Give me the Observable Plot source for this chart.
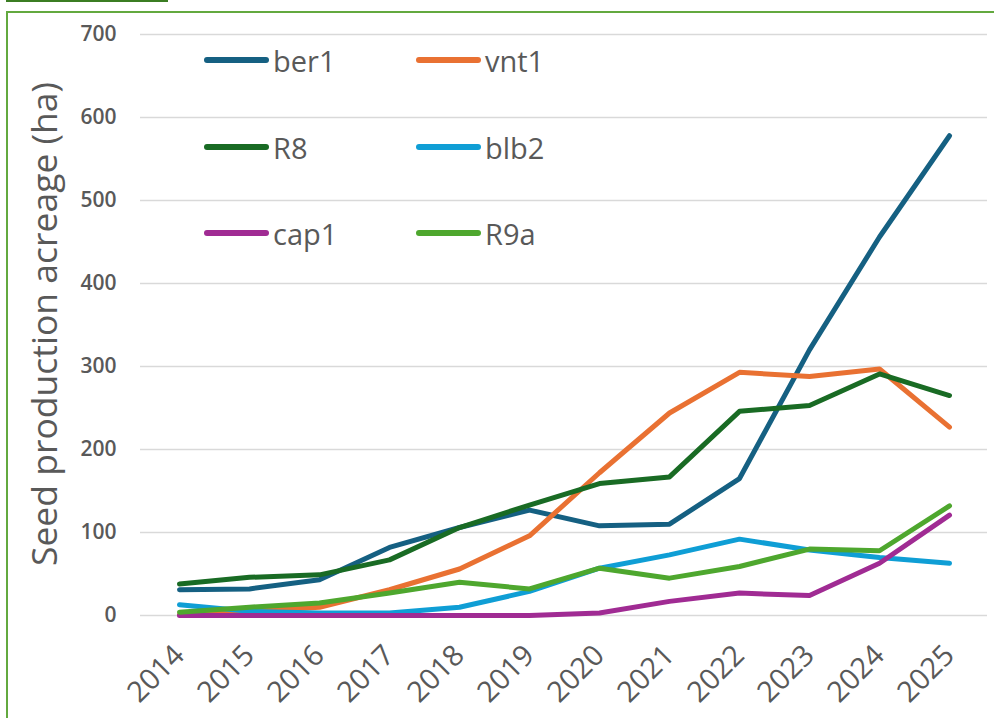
<!DOCTYPE html>
<html>
<head>
<meta charset="utf-8">
<script src="https://cdn.jsdelivr.net/npm/d3@7"></script>
<script src="https://cdn.jsdelivr.net/npm/@observablehq/plot@0.6"></script>
<style>
  html, body { margin: 0; padding: 0; background: #fff; }
  #wrap { position: relative; width: 994px; height: 718px; overflow: hidden; font-family: "Open Sans", "Noto Sans", sans-serif; }
  #chart { position: absolute; left: 0; top: 0; }
  #frame { position: absolute; left: 6px; top: 11px; width: 1000px; height: 720px; border: 2px solid #63A93F; box-sizing: border-box; pointer-events: none; }
  #topline { position: absolute; left: 6px; top: 0px; width: 162px; height: 2px; background: #3B7D23; }
  #ytitle { position: absolute; left: 43px; top: 324px; transform: translate(-50%, -50%) rotate(-90deg); white-space: nowrap; font-size: 35.5px; color: #595959; }
  .leg { position: absolute; display: flex; align-items: center; font-size: 29px; color: #595959; }
  .leg .sw { width: 65px; height: 6px; border-radius: 3px; margin-right: 4px; }
</style>
</head>
<body>
<div id="wrap">
  <div id="chart"></div>
  <div id="topline"></div>
  <div id="frame"></div>
  <div id="ytitle">Seed production acreage (ha)</div>
  <div id="legend"></div>
</div>
<script>
const years = [2014, 2015, 2016, 2017, 2018, 2019, 2020, 2021, 2022, 2023, 2024, 2025];
const seriesNames = ["ber1", "vnt1", "R8", "blb2", "cap1", "R9a"];
const seriesColors = ["#156082", "#E97132", "#196B24", "#0F9ED5", "#A02B93", "#4EA72E"];
const ber1 = [31, 32, 43, 82, 106, 127, 108, 110, 165, 320, 456, 578];
const vnt1 = [1, 5, 10, 31, 56, 96, 172, 244, 293, 288, 297, 227];
const R8   = [38, 46, 49, 67, 106, 133, 159, 167, 246, 253, 291, 265];
const blb2 = [13, 5, 3, 3, 10, 29, 57, 73, 92, 79, 70, 63];
const cap1 = [0, 0, 0, 0, 0, 0, 3, 17, 27, 24, 63, 121];
const R9a  = [4, 10, 15, 27, 40, 32, 57, 45, 59, 80, 78, 132];
const yTicks = [0, 100, 200, 300, 400, 500, 600, 700];

const seriesValues = [ber1, vnt1, R8, blb2, cap1, R9a];
const data = seriesNames.flatMap((s, i) =>
  years.map((yr, j) => ({ year: String(yr), value: seriesValues[i][j], series: s }))
);

const chart = Plot.plot({
  width: 994,
  height: 718,
  marginLeft: 140,
  marginRight: 7,
  marginTop: 34,
  marginBottom: 103,
  style: { fontFamily: "'Open Sans', 'Noto Sans', sans-serif", color: "#595959", background: "transparent", overflow: "visible" },
  x: { type: "point", domain: years.map(String), padding: 0.5, label: null },
  y: { domain: [0, 700], label: null },
  color: { domain: seriesNames, range: seriesColors },
  marks: [
    Plot.gridY(yTicks, { stroke: "#D9D9D9", strokeOpacity: 1, strokeWidth: 1.5 }),
    Plot.axisY(yTicks, { tickSize: 0, tickPadding: 24, fontSize: 21, fontWeight: 600, label: null }),
    Plot.axisX({ tickSize: 0, tickPadding: 35, tickRotate: -45, fontSize: 29, label: null }),
    Plot.line(data, {
      x: "year", y: "value", z: "series", stroke: "series",
      strokeWidth: 5, strokeLinecap: "round", strokeLinejoin: "round"
    })
  ]
});
document.getElementById("chart").appendChild(chart);

// legend (3 rows x 2 columns, inside plot area)
const legend = document.getElementById("legend");
const legRows = [60, 147, 233];
const legCols = [204, 416];
seriesNames.forEach((s, i) => {
  const row = Math.floor(i / 2), col = i % 2;
  const el = document.createElement("div");
  el.className = "leg";
  el.style.left = legCols[col] + "px";
  el.style.top = (legRows[row] - 20) + "px";
  el.style.height = "40px";
  const sw = document.createElement("div");
  sw.className = "sw";
  sw.style.background = seriesColors[i];
  const t = document.createElement("span");
  t.textContent = s;
  el.appendChild(sw);
  el.appendChild(t);
  legend.appendChild(el);
});
</script>
</body>
</html>
